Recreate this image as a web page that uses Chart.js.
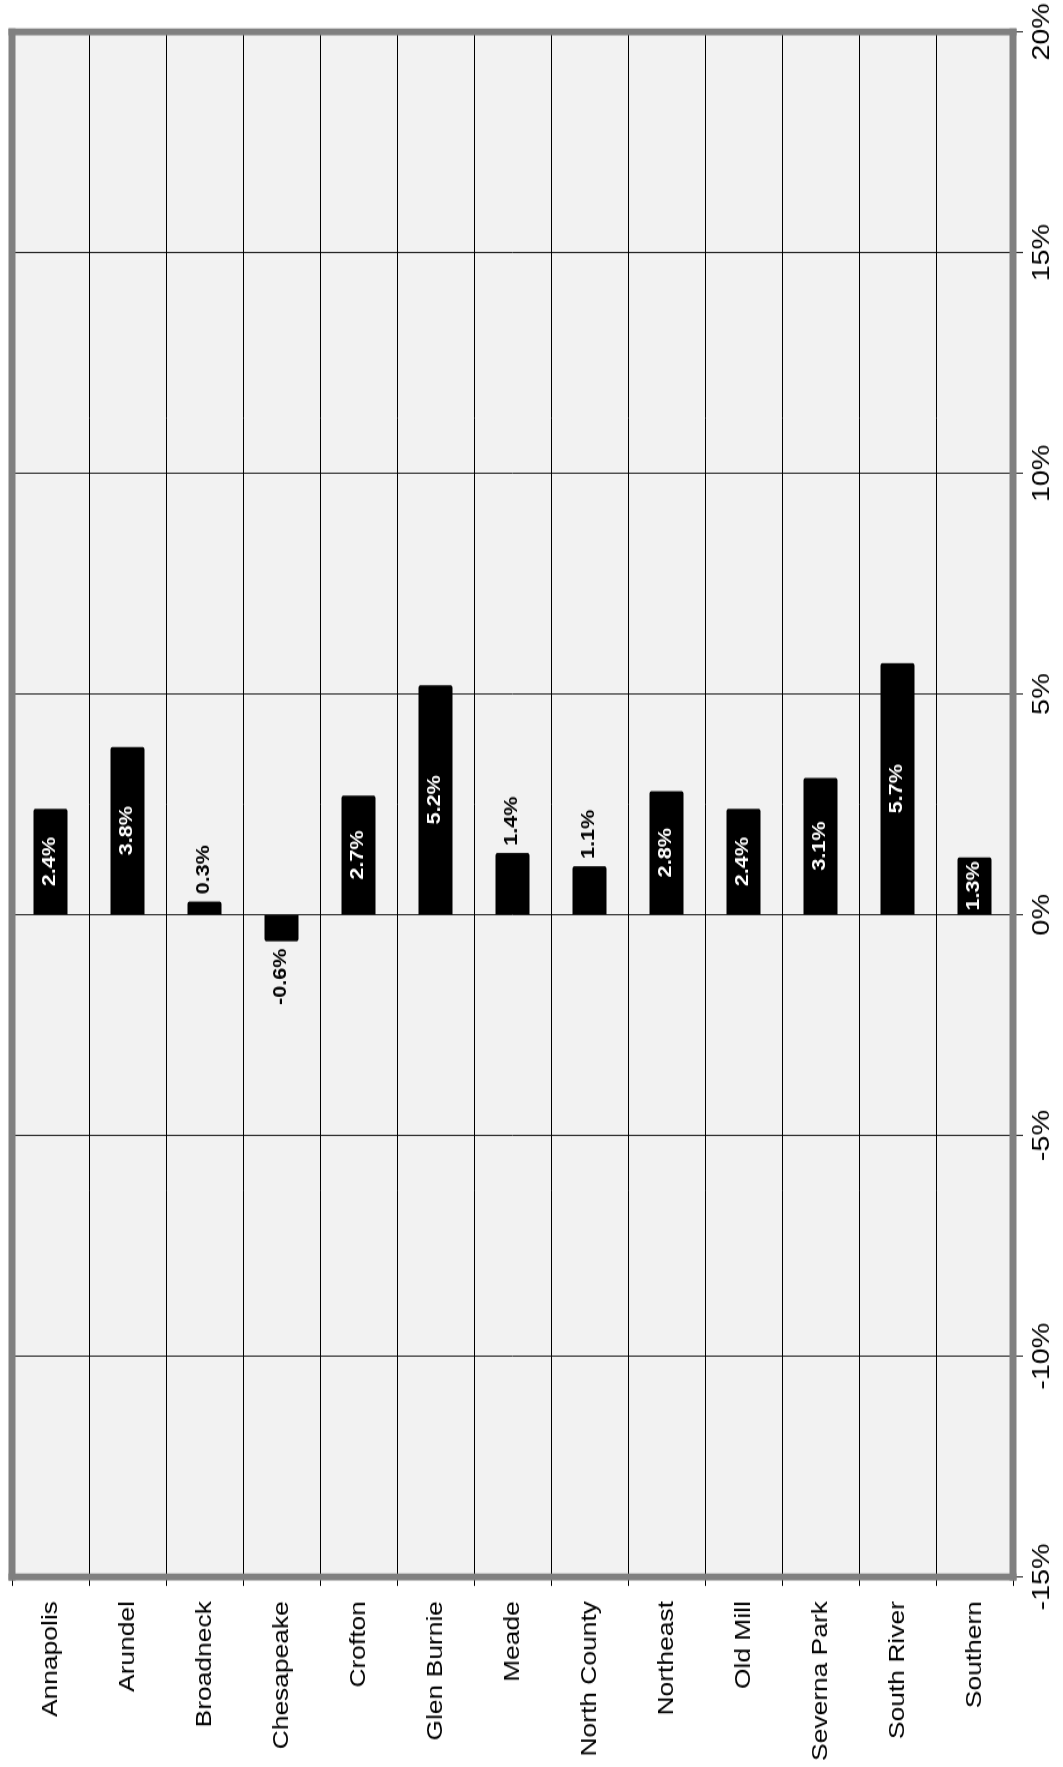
<!DOCTYPE html>
<html>
<head>
<meta charset="utf-8">
<title>Percent change by area</title>
<script src="https://cdn.jsdelivr.net/npm/chart.js@4.4.1/dist/chart.umd.min.js"></script>
<style>
  html, body { margin: 0; padding: 0; background: #fff; overflow: hidden; width: 1063px; height: 1767px; }
  /* The chart is laid out as a horizontal bar chart, widened along the value
     axis, then turned a quarter turn so that axis runs up the right-hand side. */
  #wrap {
    position: absolute; left: 0; top: 0;
    width: 1473px; height: 1063px;
    transform-origin: 0 0;
    transform: translateY(1767px) rotate(-90deg) scaleX(1.19959);
  }
  canvas { display: block; }
</style>
</head>
<body>
<div id="wrap"><canvas id="chart" width="1473" height="1063"></canvas></div>
<script>
const categories = ['Annapolis', 'Arundel', 'Broadneck', 'Chesapeake', 'Crofton', 'Glen Burnie', 'Meade',
  'North County', 'Northeast', 'Old Mill', 'Severna Park', 'South River', 'Southern'];
const changePct = [2.4, 3.8, 0.3, -0.6, 2.7, 5.2, 1.4, 1.1, 2.8, 2.4, 3.1, 5.7, 1.3];
const valueTicks = [-15, -10, -5, 0, 5, 10, 15, 20];
// areas whose label sits past the end of the bar rather than inside it
const labelOutside = ['Broadneck', 'Chesapeake', 'Meade', 'North County'];

const FONT = '"Liberation Sans", Arial, Helvetica, sans-serif';

const plotFrame = {
  id: 'plotFrame',
  beforeDraw(chart) {
    const a = chart.chartArea, ctx = chart.ctx;
    ctx.save();
    ctx.fillStyle = '#f2f2f2';
    ctx.fillRect(a.left, a.top, a.right - a.left, a.bottom - a.top);
    ctx.restore();
  },
  afterDraw(chart) {
    const a = chart.chartArea, ctx = chart.ctx;
    const h = 7, v = 5.8;   // band thickness along each edge
    ctx.save();
    ctx.fillStyle = '#808080';
    ctx.fillRect(a.left - v / 2, a.top - h / 2, a.right - a.left + v, h);
    ctx.fillRect(a.left - v / 2, a.bottom - h / 2, a.right - a.left + v, h);
    ctx.fillRect(a.left - v / 2, a.top - h / 2, v, a.bottom - a.top + h);
    ctx.fillRect(a.right - v / 2, a.top - h / 2, v, a.bottom - a.top + h);
    ctx.restore();
  }
};

const valueLabels = {
  id: 'valueLabels',
  afterDatasetsDraw(chart) {
    const ctx = chart.ctx;
    const meta = chart.getDatasetMeta(0);
    const data = chart.data.datasets[0].data;
    ctx.save();
    ctx.font = 'bold 18px ' + FONT;
    ctx.textBaseline = 'middle';
    meta.data.forEach((bar, i) => {
      const v = data[i];
      const text = v.toFixed(1) + '%';
      const name = chart.data.labels[i];
      if (labelOutside.includes(name)) {
        ctx.fillStyle = '#000';
        if (v >= 0) {
          ctx.textAlign = 'left';
          ctx.fillText(text, bar.x + 6, bar.y);
        } else {
          ctx.textAlign = 'right';
          ctx.fillText(text, bar.x - 6, bar.y);
        }
      } else {
        ctx.fillStyle = '#fff';
        ctx.textAlign = 'center';
        ctx.fillText(text, (bar.x + bar.base) / 2, bar.y);
      }
    });
    ctx.restore();
  }
};

new Chart(document.getElementById('chart'), {
  type: 'bar',
  data: {
    labels: categories,
    datasets: [{
      data: changePct,
      backgroundColor: '#000',
      borderWidth: 0,
      borderRadius: 2,
      barPercentage: 0.44,
      categoryPercentage: 1
    }]
  },
  options: {
    indexAxis: 'y',
    responsive: false,
    devicePixelRatio: 1,
    animation: false,
    layout: { padding: { left: 0, right: 26.6, top: 12, bottom: 0 } },
    plugins: { legend: { display: false }, tooltip: { enabled: false } },
    scales: {
      x: {
        type: 'linear',
        position: 'bottom',
        min: valueTicks[0],
        max: valueTicks[valueTicks.length - 1],
        afterBuildTicks(scale) { scale.ticks = valueTicks.map(v => ({ value: v })); },
        afterFit(scale) {
          scale.height = 50;
          scale.paddingLeft = 0;
          scale.paddingRight = 0;
        },
        grid: { color: '#000', lineWidth: 0.85, tickLength: 10, drawTicks: true },
        border: { display: false },
        ticks: {
          color: '#000',
          font: { family: FONT, size: 24 },
          padding: 5,
          maxRotation: 0,
          callback: v => v + '%'
        }
      },
      y: {
        type: 'category',
        afterFit(scale) {
          scale.width = 158.4;
          scale.paddingTop = 0;
          scale.paddingBottom = 0;
        },
        grid: { color: '#000', lineWidth: 1, tickLength: 7.5, offset: true, drawTicks: true },
        border: { display: false },
        ticks: {
          color: '#000',
          font: { family: FONT, size: 22 },
          padding: 12.6,
          autoSkip: false
        }
      }
    }
  },
  plugins: [plotFrame, valueLabels]
});
</script>
</body>
</html>
